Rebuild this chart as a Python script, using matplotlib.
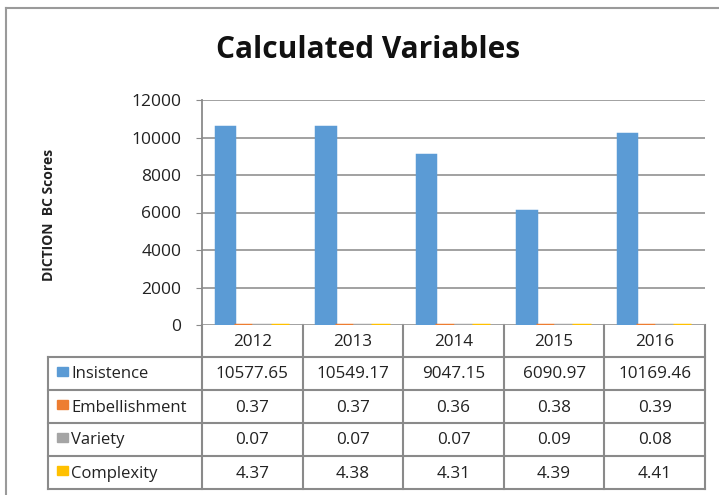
import matplotlib.pyplot as plt
import numpy as np

years = ["2012", "2013", "2014", "2015", "2016"]
series = ["Insistence", "Embellishment", "Variety", "Complexity"]
insistence = [10577.65, 10549.17, 9047.15, 6090.97, 10169.46]
embellishment = [0.37, 0.37, 0.36, 0.38, 0.39]
variety = [0.07, 0.07, 0.07, 0.09, 0.08]
complexity = [4.37, 4.38, 4.31, 4.39, 4.41]
colors = ["#5b9bd5", "#ed7d31", "#a5a5a5", "#ffc000"]

values = [insistence, embellishment, variety, complexity]

plt.rcParams["font.family"] = ["Open Sans", "DejaVu Sans"]
W, H = 719, 495
fig = plt.figure(figsize=(W / 100, H / 100), dpi=100)

# plot area in pixels
px_left, px_right, px_top, px_bot = 202, 705, 100, 325
ax = fig.add_axes([px_left / W, 1 - px_bot / H, (px_right - px_left) / W, (px_bot - px_top) / H])
ax.set_facecolor("none")
ax.set_zorder(2)

x = np.arange(len(years))
bw = 0.182
for i, (name, vals) in enumerate(zip(series, values)):
    ax.bar(x + (i - 1.5) * bw, vals, bw, color=colors[i], edgecolor=colors[i],
           linewidth=2.5, zorder=3)

ax.set_xlim(-0.5, len(years) - 0.5)
ax.set_ylim(0, 12000)
ax.set_yticks(np.arange(0, 12001, 2000))
ax.set_xticks([])
ax.yaxis.grid(True, color="#9a9a9a", linewidth=1.3, zorder=0)
for s in ["top", "right", "bottom"]:
    ax.spines[s].set_visible(False)
ax.spines["left"].set_color("#8a8a8a")
ax.spines["left"].set_linewidth(1.3)
ax.tick_params(axis="y", length=4, color="#8a8a8a", labelsize=12.5, pad=11,
               labelcolor="#222222")
ax.set_ylabel("DICTION  BC Scores", fontsize=10, fontweight="bold", color="#222222")
ax.yaxis.set_label_coords((56 - px_left) / (px_right - px_left), 0.49)

# overlay in pixel coordinates for table, title and frame
ov = fig.add_axes([0, 0, 1, 1], facecolor="none")
ov.set_zorder(1)
ov.set_xlim(0, W)
ov.set_ylim(H, 0)
ov.axis("off")

ov.plot([6, W + 5], [8, 8], color="#9a9a9a", lw=1.5)
ov.plot([6, 6], [8, H + 5], color="#9a9a9a", lw=1.5)

ov.text(368, 50, "Calculated Variables", ha="center", va="center",
        fontsize=21.5, fontweight="bold", color="#111111")

col_w = (px_right - px_left) / len(years)
cols = [48] + [px_left + k * col_w for k in range(len(years) + 1)]
rows = [325, 357, 390, 423, 456, 489]
lc = "#8a8a8a"

# horizontal lines
for r in rows[1:]:
    ov.plot([cols[0], px_right], [r, r], color=lc, lw=1.5)
# vertical lines
ov.plot([cols[0], cols[0]], [rows[1], rows[-1]], color=lc, lw=1.5)
for c in cols[1:]:
    ov.plot([c, c], [rows[0], rows[-1]], color=lc, lw=1.5)

fs = 12.3
for j, yr in enumerate(years):
    cx = px_left + (j + 0.5) * col_w
    ov.text(cx, (rows[0] + rows[1]) / 2 + 1, yr, ha="center", va="center",
            fontsize=fs, color="#222222")

for i, (name, vals) in enumerate(zip(series, values)):
    cy = (rows[i + 1] + rows[i + 2]) / 2
    ov.add_patch(plt.Rectangle((57, cy - 7), 11, 9, color=colors[i]))
    ov.text(71, cy + 1, name, ha="left", va="center", fontsize=fs - 0.3, color="#222222")
    for j, v in enumerate(vals):
        cx = px_left + (j + 0.5) * col_w
        ov.text(cx, cy + 1, f"{v:.2f}", ha="center", va="center", fontsize=fs,
                color="#222222")

fig.savefig("out.png", dpi=100)
